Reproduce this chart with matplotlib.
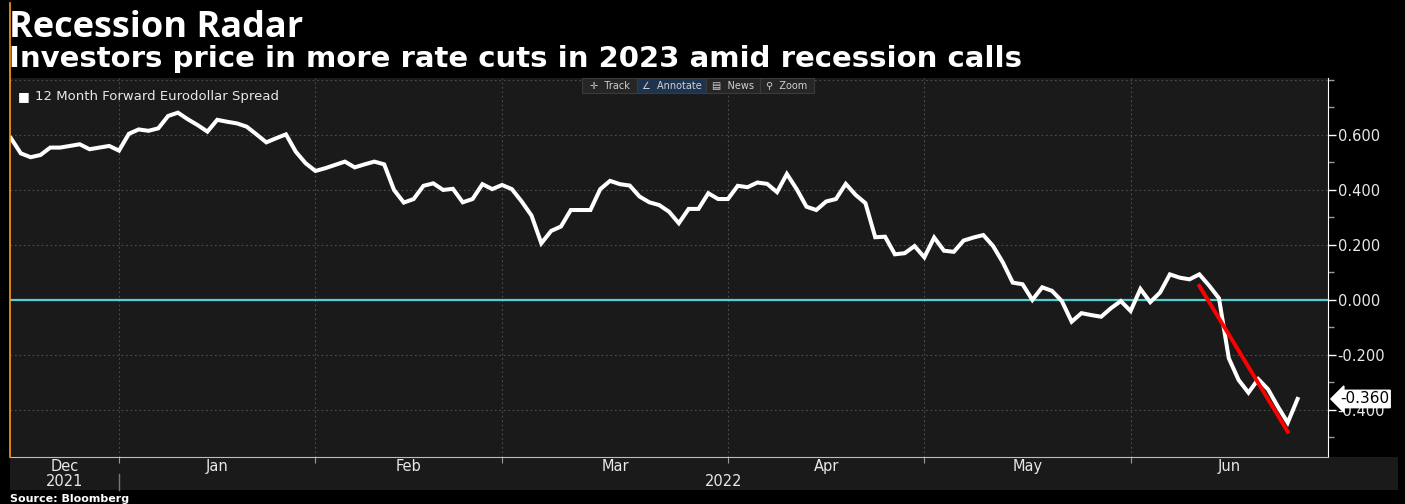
import matplotlib
matplotlib.use("Agg")
import matplotlib.pyplot as plt
import matplotlib.transforms as mtransforms
from matplotlib.patches import Rectangle
from matplotlib.lines import Line2D
import numpy as np
import pandas as pd

plt.rcParams['axes.unicode_minus'] = False

# 12 month forward eurodollar spread, one value per trading day from 16 Dec 2021
spread = [0.588, 0.533, 0.519, 0.527, 0.554, 0.554, 0.560, 0.566, 0.548, 0.554,
          0.560, 0.543, 0.604, 0.620, 0.615, 0.624, 0.669, 0.681, 0.657, 0.636,
          0.612, 0.655, 0.648, 0.642, 0.630, 0.602, 0.573, 0.588, 0.602, 0.539,
          0.497, 0.469, 0.479, 0.491,
          0.503, 0.482, 0.493, 0.503, 0.493, 0.400, 0.354, 0.367, 0.415, 0.424,
          0.400, 0.404, 0.355, 0.367, 0.421, 0.403, 0.418, 0.403, 0.358, 0.307,
          0.206, 0.251, 0.267, 0.327, 0.327, 0.327, 0.403, 0.433, 0.421, 0.416,
          0.376, 0.355, 0.345,
          0.321, 0.279, 0.331, 0.331, 0.388, 0.367, 0.367, 0.415, 0.410, 0.427,
          0.422, 0.392, 0.458, 0.403, 0.339, 0.327, 0.358, 0.367, 0.422, 0.382,
          0.352, 0.228, 0.230, 0.166, 0.170, 0.196, 0.155, 0.227, 0.179, 0.175,
          0.216, 0.227, 0.236, 0.196,
          0.136, 0.063, 0.057, 0.000, 0.046, 0.033, -0.004, -0.079, -0.048, -0.055,
          -0.061, -0.030, -0.004, -0.040, 0.040, -0.008, 0.027, 0.093, 0.081, 0.075,
          0.093, 0.052, 0.006, -0.212, -0.291, -0.337, -0.288, -0.325, -0.388, -0.446,
          -0.360]
holidays = ['2021-12-24', '2022-01-17', '2022-02-21', '2022-04-15',
            '2022-05-30', '2022-06-20']
# hand drawn trend line (trading day index, value)
trend_idx = [121, 130]
trend_val = [0.051, -0.479]
last_value = spread[-1]

dates = pd.date_range('2021-12-16', periods=len(spread),
                      freq=pd.offsets.CustomBusinessDay(holidays=holidays))
x = np.arange(len(spread))

W, H = 1405, 504
def fx(p):
    return p / W
def fy(p):
    return 1 - p / H

BG = '#1a1a1a'
GRID = '#4d4d4d'
TXT = '#e8e8e8'

fig = plt.figure(figsize=(W / 100, H / 100), dpi=100, facecolor='black')

# band under the axes holding the month / year labels
fig.patches.append(Rectangle((fx(10), fy(490)), fx(1388), (490 - 457) / H,
                             transform=fig.transFigure, facecolor=BG,
                             edgecolor='none', zorder=-5))

ax = fig.add_axes([fx(10), fy(457), fx(1318), (457 - 78) / H])
ax.set_facecolor(BG)
xmin, xmax = -0.1, 134.1
ax.set_xlim(xmin, xmax)
ax.set_ylim(-0.571, 0.807)

# months
month_starts = [i for i in range(1, len(dates)) if dates[i].month != dates[i - 1].month]
edges = [xmin] + month_starts + [xmax]
centers = [(a + b) / 2 for a, b in zip(edges[:-1], edges[1:])]
month_names = [dates[0].strftime('%b')] + [dates[i].strftime('%b') for i in month_starts]

ax.set_xticks(month_starts)
ax.set_xticklabels([])
ax.set_xticks(centers, minor=True)
ax.set_xticklabels(month_names, minor=True)
ax.tick_params(axis='x', which='major', length=4, color='#9a9a9a', direction='out')
ax.tick_params(axis='x', which='minor', length=0, pad=1.5, labelsize=10.5, labelcolor=TXT)

ax.yaxis.tick_right()
ax.set_yticks([-0.4, -0.2, 0.0, 0.2, 0.4, 0.6])
ax.set_yticklabels(['%.3f' % v for v in [-0.4, -0.2, 0.0, 0.2, 0.4, 0.6]])
ax.set_yticks(np.round(np.arange(-0.5, 0.85, 0.1), 1), minor=True)
ax.tick_params(axis='y', which='major', length=6, width=1, color='white',
               labelsize=10.5, labelcolor=TXT, pad=1)
ax.tick_params(axis='y', which='minor', length=4, width=1, color='#9a9a9a')

for s in ['top', 'left']:
    ax.spines[s].set_visible(False)
ax.spines['right'].set_color('white')
ax.spines['bottom'].set_color('#bdbdbd')

for v in [-0.4, -0.2, 0.2, 0.4, 0.6, 0.8]:
    ax.axhline(v, color=GRID, lw=0.8, ls=(0, (1.5, 2.5)), zorder=1)
for m in month_starts:
    ax.axvline(m, color=GRID, lw=0.8, ls=(0, (1.5, 2.5)), zorder=1)

ax.axhline(0, color='#4fd1d1', lw=1.6, zorder=2)
ax.plot(x, spread, color='white', lw=2.9, solid_joinstyle='miter', zorder=3)
ax.plot(trend_idx, trend_val, color='#ff0000', lw=2.8, zorder=4)

# last value tag on the right axis
tag = mtransforms.blended_transform_factory(ax.transAxes, ax.transData)
ax.text(1.009, last_value, '%.3f' % last_value, transform=tag, ha='left', va='center',
        fontsize=11, color='black', clip_on=False, zorder=6,
        bbox=dict(boxstyle='larrow,pad=0.08', facecolor='white', edgecolor='white'))

# legend
ax.text(0.006, 0.95, '\u25A0', transform=ax.transAxes, fontsize=9, color='white',
        va='center', ha='left')
ax.text(0.019, 0.95, '12 Month Forward Eurodollar Spread', transform=ax.transAxes,
        fontsize=9.5, color=TXT, va='center', ha='left')

# year row
yr = mtransforms.blended_transform_factory(ax.transData, fig.transFigure)
ax.text(centers[0], fy(482), str(dates[0].year), transform=yr, ha='center', va='center',
        fontsize=10.5, color=TXT, clip_on=False)
ax.text((month_starts[0] + xmax) / 2, fy(482), str(dates[-1].year), transform=yr,
        ha='center', va='center', fontsize=10.5, color=TXT, clip_on=False)
ax.add_line(Line2D([month_starts[0], month_starts[0]], [fy(474), fy(490)], transform=yr,
                   color='#777777', lw=1, clip_on=False))

# orange marker bar on the left edge
fig.add_artist(Line2D([fx(9.5), fx(9.5)], [fy(3), fy(457)], transform=fig.transFigure,
                      color='#ff9a1a', lw=1.2))

# titles
fig.text(fx(9), fy(37), 'Recession Radar', fontsize=26, fontweight='bold',
         family='Open Sans', color='white', va='baseline', ha='left')
fig.text(fx(9), fy(67), 'Investors price in more rate cuts in 2023 amid recession calls',
         fontsize=21, fontweight='bold', family='DejaVu Sans', color='white',
         va='baseline', ha='left')
fig.text(fx(10), fy(502), 'Source: Bloomberg', fontsize=8, fontweight='bold',
         family='DejaVu Sans', color='white', va='baseline', ha='left')

# chart toolbar
buttons = [('\u271B  Track', 582, 637, '#262626'),
           ('\u2220  Annotate', 637, 706, '#1d3350'),
           ('\u25A4  News', 706, 760, '#262626'),
           ('\u26B2  Zoom', 760, 814, '#262626')]
for label, x0, x1, fc in buttons:
    fig.patches.append(Rectangle((fx(x0), fy(93)), fx(x1 - x0), 15 / H,
                                 transform=fig.transFigure, facecolor=fc,
                                 edgecolor='#3a3a3a', lw=0.8, zorder=5))
    fig.text(fx((x0 + x1) / 2), fy(86), label, fontsize=7, color='#d0d0d0',
             ha='center', va='center', zorder=6)

fig.savefig('out.png', dpi=100, facecolor='black')
